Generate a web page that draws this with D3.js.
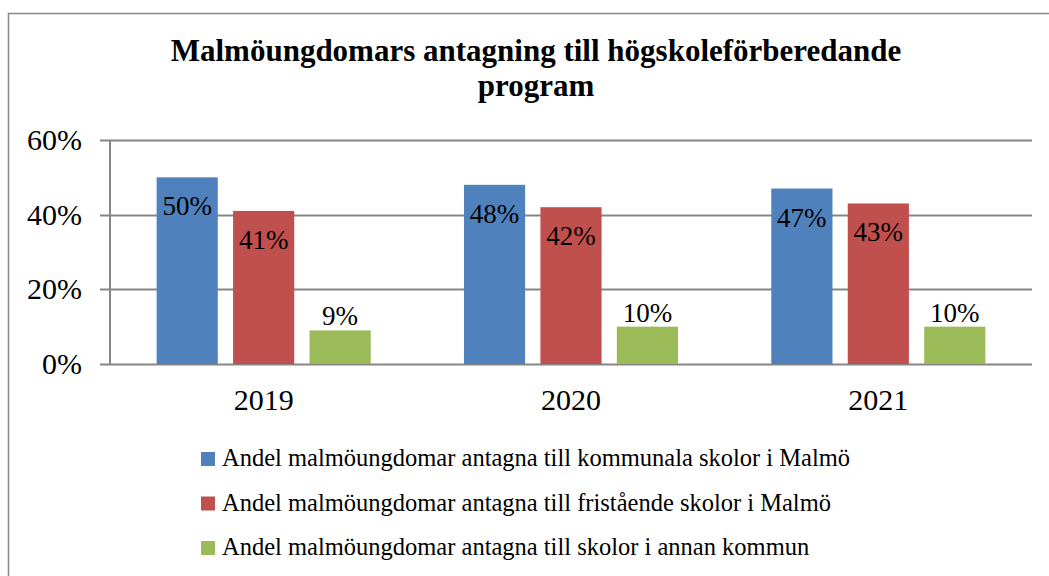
<!DOCTYPE html>
<html>
<head>
<meta charset="utf-8">
<script src="https://cdn.jsdelivr.net/npm/d3@7"></script>
<style>
  body { margin: 0; background: #fff; }
  svg text { font-family: "Liberation Serif", "Times New Roman", serif; }
</style>
</head>
<body>
<svg width="1049" height="576"></svg>
<script>
const years = ["2019", "2020", "2021"];
const seriesNames = [
  "Andel malmöungdomar antagna till kommunala skolor i Malmö",
  "Andel malmöungdomar antagna till fristående skolor i Malmö",
  "Andel malmöungdomar antagna till skolor i annan kommun"
];
const kommunala = [50, 48, 47];
const fristaende = [41, 42, 43];
const annanKommun = [9, 10, 10];
const yTicks = [0, 20, 40, 60];
const colors = ["#4F81BD", "#C0504D", "#9BBB59"];

const serif = '"Liberation Serif", "Times New Roman", serif';

let svg = d3.select("svg");
let width = +svg.attr("width");
let height = +svg.attr("height");

const values = [kommunala, fristaende, annanKommun];
const rows = years.map((y, i) => ({ year: y, vals: values.map(v => v[i]) }));

// outer frame
svg.append("rect")
  .attr("x", 8.5).attr("y", 13.5)
  .attr("width", 1100).attr("height", 700)
  .attr("fill", "none")
  .attr("stroke", "#868686")
  .attr("stroke-width", 1.5);

// title
let title = svg.append("text")
  .style("font-family", serif)
  .attr("text-anchor", "middle")
  .attr("font-weight", "bold")
  .attr("font-size", 31)
  .attr("fill", "#000");
title.append("tspan").attr("x", 536).attr("y", 61).text("Malmöungdomars antagning till högskoleförberedande");
title.append("tspan").attr("x", 536).attr("y", 96).text("program");

const plotLeft = 110, plotRight = 1032, plotTop = 140, plotBottom = 364;

let x = d3.scaleBand().domain(years).range([plotLeft, plotRight]);
let xs = d3.scaleBand().domain(d3.range(3)).range([0, x.bandwidth()])
  .paddingInner(0.2).paddingOuter(0.61);
let y = d3.scaleLinear().domain([0, 60]).range([plotBottom, plotTop]);

// gridlines
svg.append("g")
  .selectAll("line")
  .data(yTicks)
  .join("line")
  .attr("x1", plotLeft - 10).attr("x2", plotRight)
  .attr("y1", d => Math.round(y(d)) + 0.5)
  .attr("y2", d => Math.round(y(d)) + 0.5)
  .attr("stroke", "#868686")
  .attr("stroke-width", 2);

// y axis line
svg.append("line")
  .attr("x1", plotLeft).attr("x2", plotLeft)
  .attr("y1", plotTop).attr("y2", plotBottom)
  .attr("stroke", "#868686")
  .attr("stroke-width", 2);

// y tick labels
svg.append("g")
  .selectAll("text")
  .data(yTicks)
  .join("text")
  .style("font-family", serif)
  .attr("x", 82)
  .attr("y", d => y(d) + 10)
  .attr("text-anchor", "end")
  .attr("font-size", 30)
  .text(d => d + "%");

// bars
let groups = svg.append("g")
  .selectAll("g")
  .data(rows)
  .join("g")
  .attr("transform", d => `translate(${x(d.year)},0)`);

groups.selectAll("rect")
  .data(d => d.vals)
  .join("rect")
  .attr("x", (d, i) => xs(i))
  .attr("y", d => y(d))
  .attr("width", xs.bandwidth())
  .attr("height", d => y(0) - y(d))
  .attr("fill", (d, i) => colors[i]);

groups.selectAll("text")
  .data(d => d.vals)
  .join("text")
  .style("font-family", serif)
  .attr("x", (d, i) => xs(i) + xs.bandwidth() / 2)
  .attr("y", (d, i) => i < 2 ? y(d) + 38 : y(d) - 5)
  .attr("text-anchor", "middle")
  .attr("font-size", 27)
  .attr("fill", "#000")
  .text(d => d + "%");

// category labels
svg.append("g")
  .selectAll("text")
  .data(years)
  .join("text")
  .style("font-family", serif)
  .attr("x", d => x(d) + x.bandwidth() / 2)
  .attr("y", 410)
  .attr("text-anchor", "middle")
  .attr("font-size", 30)
  .text(d => d);

// legend
let legend = svg.append("g")
  .selectAll("g")
  .data(seriesNames)
  .join("g")
  .attr("transform", (d, i) => `translate(201,${459 + i * 44.5})`);

legend.append("rect")
  .attr("x", 0).attr("y", -7)
  .attr("width", 14).attr("height", 14)
  .attr("fill", (d, i) => colors[i]);

legend.append("text")
  .style("font-family", serif)
  .attr("x", 21).attr("y", 7)
  .attr("font-size", 24.5)
  .text(d => d);
</script>
</body>
</html>
